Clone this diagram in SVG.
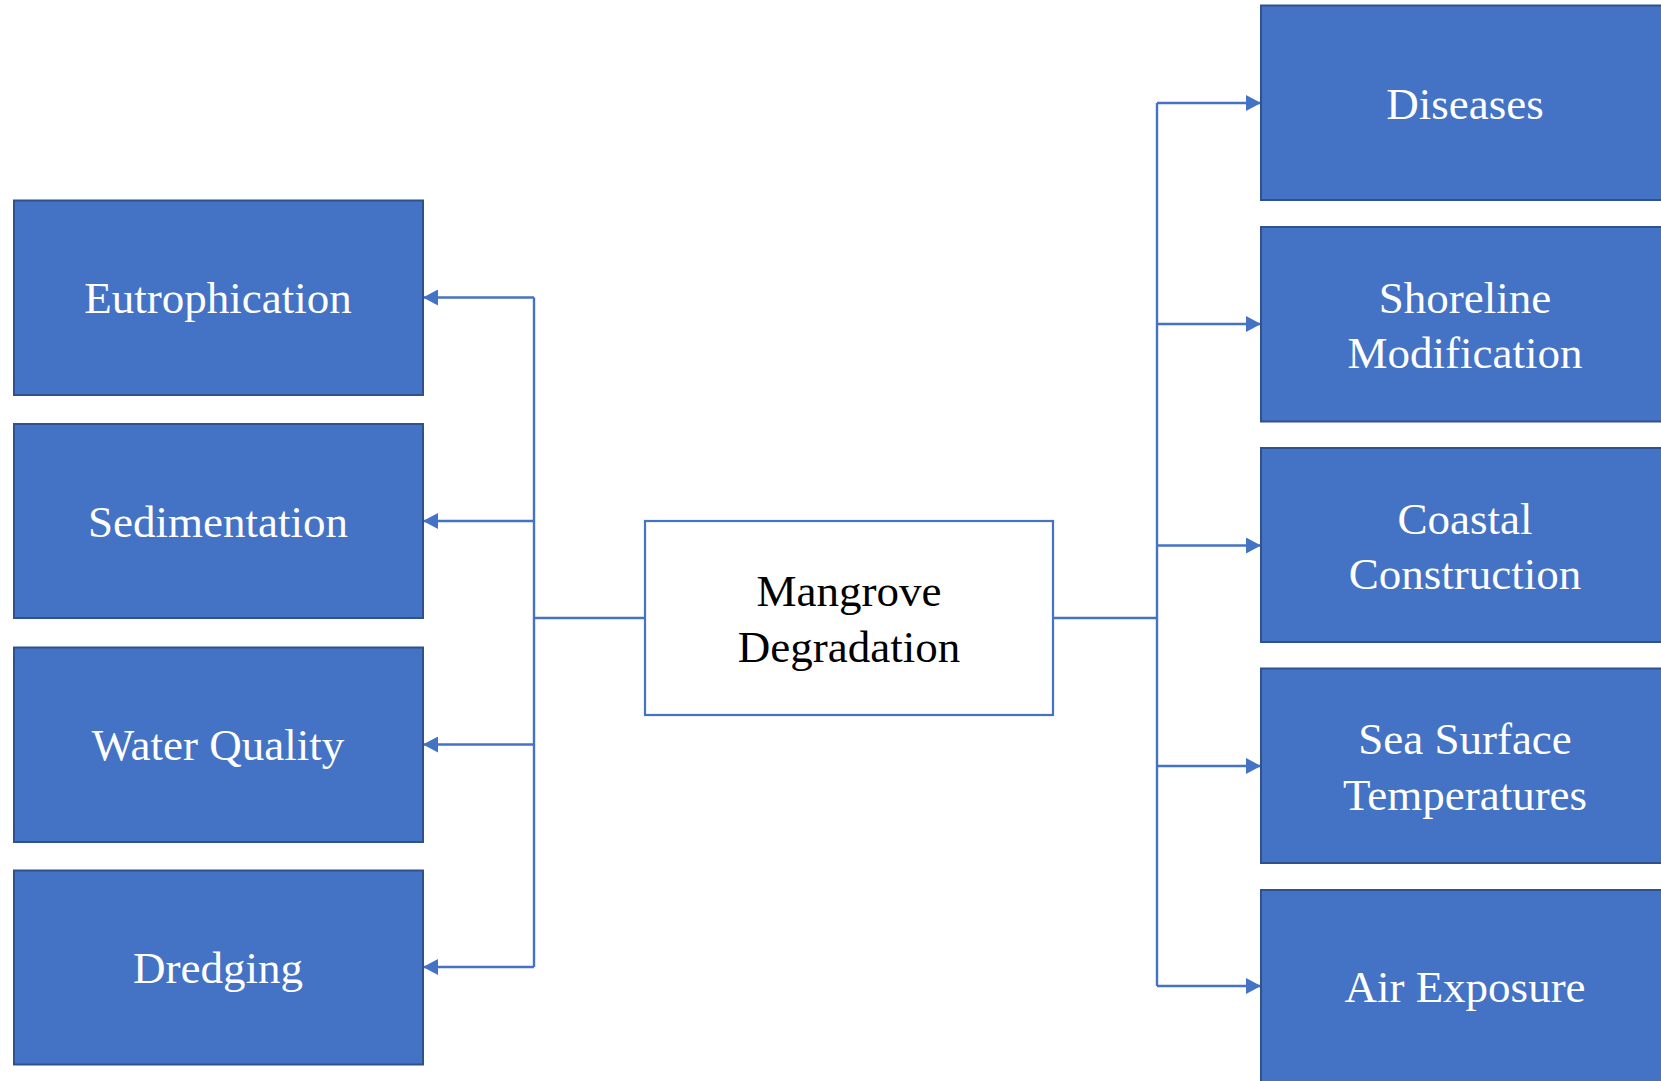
<svg xmlns="http://www.w3.org/2000/svg" width="1661" height="1081" viewBox="0 0 1661 1081">
<style>
.box{fill:#4472C4;stroke:#2F528F;stroke-width:2}
.center{fill:#FFFFFF;stroke:#4472C4;stroke-width:2.2}
.lbl{font-family:"Liberation Serif","Times New Roman",serif;font-size:45px;fill:#FFFFFF;text-anchor:middle}
.dark{fill:#000000}
.ln{fill:none;stroke:#4472C4;stroke-width:2.4}
</style>
<defs>
<marker id="arr" markerUnits="userSpaceOnUse" markerWidth="15" markerHeight="16" refX="15" refY="8" orient="auto">
<path d="M0,0 L15,8 L0,16 Z" fill="#4472C4"/>
</marker>
</defs>
<rect width="1661" height="1081" fill="#FFFFFF"/>
<g id="connectors">
<path class="ln" d="M645,618 H534"/>
<path class="ln" d="M534,297.5 V967"/>
<path class="ln" d="M534,297.5 H423" marker-end="url(#arr)"/>
<path class="ln" d="M534,521 H423" marker-end="url(#arr)"/>
<path class="ln" d="M534,744.5 H423" marker-end="url(#arr)"/>
<path class="ln" d="M534,967 H423" marker-end="url(#arr)"/>
<path class="ln" d="M1053,618 H1157"/>
<path class="ln" d="M1157,103 V986"/>
<path class="ln" d="M1157,103 H1261" marker-end="url(#arr)"/>
<path class="ln" d="M1157,324 H1261" marker-end="url(#arr)"/>
<path class="ln" d="M1157,545.5 H1261" marker-end="url(#arr)"/>
<path class="ln" d="M1157,766 H1261" marker-end="url(#arr)"/>
<path class="ln" d="M1157,986 H1261" marker-end="url(#arr)"/>
</g>
<g id="mangrove-degradation">
<rect class="center" x="645" y="521" width="408" height="194"/>
<text class="lbl dark" x="849" y="606">Mangrove</text>
<text class="lbl dark" x="849" y="662">Degradation</text>
</g>
<g id="eutrophication">
<rect class="box" x="14" y="200.5" width="409" height="194.5"/>
<text class="lbl" x="218" y="313">Eutrophication</text>
</g>
<g id="sedimentation">
<rect class="box" x="14" y="424" width="409" height="194"/>
<text class="lbl" x="218" y="536.5">Sedimentation</text>
</g>
<g id="water-quality">
<rect class="box" x="14" y="647.5" width="409" height="194.5"/>
<text class="lbl" x="218" y="760">Water Quality</text>
</g>
<g id="dredging">
<rect class="box" x="14" y="870.5" width="409" height="194"/>
<text class="lbl" x="218" y="983">Dredging</text>
</g>
<g id="diseases">
<rect class="box" x="1261" y="5.5" width="409" height="194.5"/>
<text class="lbl" x="1465" y="118.5">Diseases</text>
</g>
<g id="shoreline-modification">
<rect class="box" x="1261" y="227" width="409" height="194.5"/>
<text class="lbl" x="1465" y="312.5">Shoreline</text>
<text class="lbl" x="1465" y="368">Modification</text>
</g>
<g id="coastal-construction">
<rect class="box" x="1261" y="448" width="409" height="194"/>
<text class="lbl" x="1465" y="533.5">Coastal</text>
<text class="lbl" x="1465" y="589">Construction</text>
</g>
<g id="sea-surface-temperatures">
<rect class="box" x="1261" y="668.5" width="409" height="194.5"/>
<text class="lbl" x="1465" y="754">Sea Surface</text>
<text class="lbl" x="1465" y="809.5">Temperatures</text>
</g>
<g id="air-exposure">
<rect class="box" x="1261" y="890" width="409" height="194.5"/>
<text class="lbl" x="1465" y="1002">Air Exposure</text>
</g>
</svg>
